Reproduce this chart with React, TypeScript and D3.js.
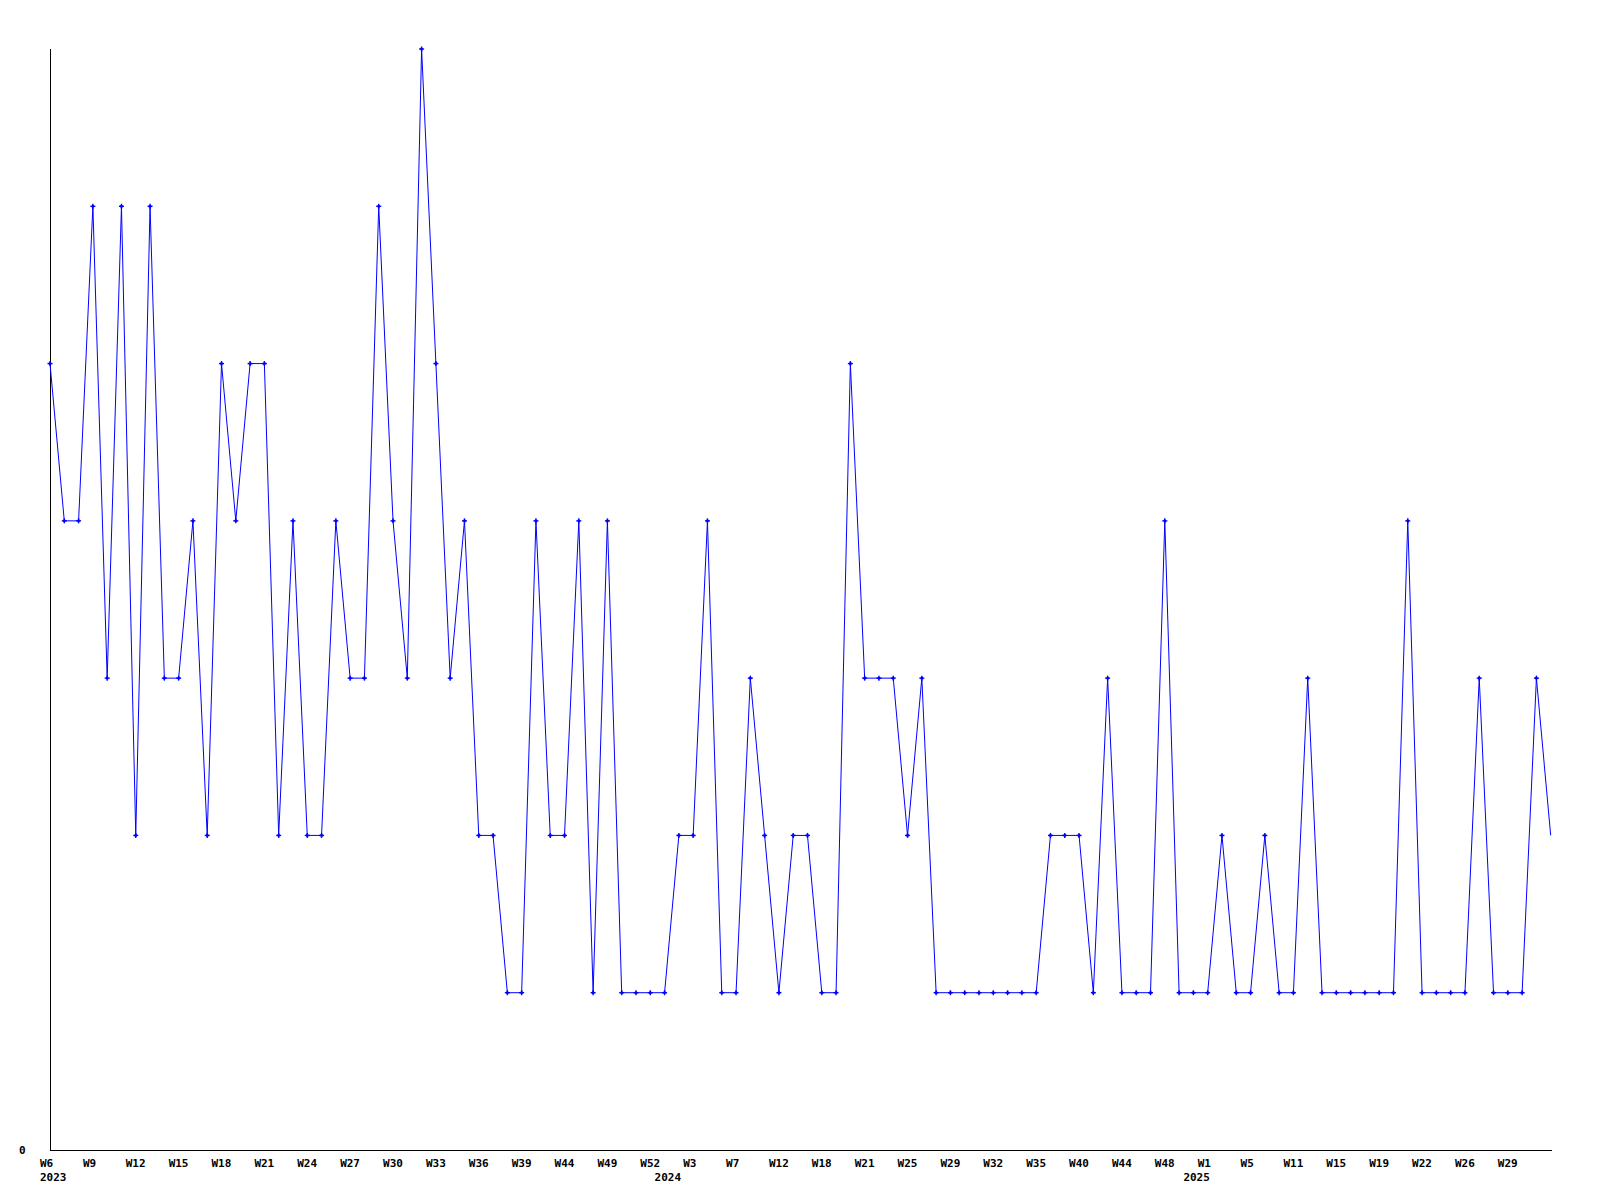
import React from "react";
import * as d3 from "d3";

const weeks: string[] = [
  "W6","W7","W8","W9","W10","W11","W12","W13","W14","W15","W16","W17","W18","W19","W20","W21","W22","W23","W24","W25","W26","W27","W28","W29","W30","W31","W32","W33","W34","W35","W36","W37","W38","W39","W40","W42","W44","W45","W47","W49","W50","W51","W52",
  "W1","W2","W3","W4","W6","W7","W9","W10","W12","W14","W16","W18","W19","W20","W21","W22","W24","W25","W26","W28","W29","W30","W31","W32","W33","W34","W35","W37","W38","W40","W41","W43","W44","W45","W47","W48","W50",
  "W52","W1","W3","W4","W5","W7","W9","W11","W12","W14","W15","W16","W18","W19","W20","W21","W22","W23","W25","W26","W27","W28","W29","W30","W31","W32"
];

const counts: number[] = [
  5,4,4,6,3,6,2,6,3,3,4,2,5,4,5,5,2,4,2,2,4,3,3,6,4,3,7,5,3,4,2,2,1,1,4,2,2,4,1,4,1,1,1,1,2,2,4,1,1,3,2,1,2,2,1,1,5,3,3,3,2,3,1,1,1,1,1,1,1,1,2,2,2,1,3,1,1,1,4,1,1,1,2,1,1,2,1,1,3,1,1,1,1,1,1,4,1,1,1,1,3,1,1,1,3,2
];

const yearLabels: { year: string; index: number }[] = [
  { year: "2023", index: 0 },
  { year: "2024", index: 43 },
  { year: "2025", index: 80 },
];

const yTickLabels: number[] = [0];
const tickEvery = 3;

export default function App() {
  const left = 50;
  const right = 1550.7;
  const top = 49;
  const bottom = 1150;
  const n = counts.length;
  const x = d3.scaleLinear().domain([0, n - 1]).range([left, right]);
  const y = d3.scaleLinear().domain([0, 7]).range([bottom, top]);
  const line = d3
    .line<number>()
    .x((_, i) => x(i))
    .y((d) => y(d));
  const font = "'DejaVu Sans Mono', monospace";
  return (
    <svg
      width={1600}
      height={1200}
      style={{ position: "absolute", left: 0, top: 0, background: "#fff" }}
    >
      <rect x={0} y={0} width={1600} height={1200} fill="#fff" />
      <line x1={left} y1={top} x2={left} y2={bottom} stroke="#000" strokeWidth={1} shapeRendering="crispEdges" />
      <line x1={left} y1={bottom} x2={right + 1} y2={bottom} stroke="#000" strokeWidth={1} shapeRendering="crispEdges" />
      {yTickLabels.map((v) => (
        <text key={v} x={19} y={y(v) + 4} fontFamily={font} fontWeight="bold" fontSize={11} fill="#000">
          {v}
        </text>
      ))}
      {weeks.map((w, i) =>
        i % tickEvery === 0 && i < n - 1 ? (
          <text key={i} x={x(i) - 10} y={1166.5} fontFamily={font} fontWeight="bold" fontSize={11} fill="#000">
            {w}
          </text>
        ) : null
      )}
      {yearLabels.map((yl) => (
        <text key={yl.year} x={x(yl.index) - 10} y={1181} fontFamily={font} fontWeight="bold" fontSize={11} fill="#000">
          {yl.year}
        </text>
      ))}
      <path d={line(counts) || ""} fill="none" stroke="#0000ff" strokeWidth={1} />
      {counts.map((c, i) =>
        i < n - 1 ? (
          <g key={i} stroke="#0000ff" strokeWidth={1.4}>
            <line x1={x(i) - 2.5} y1={y(c)} x2={x(i) + 2.5} y2={y(c)} />
            <line x1={x(i)} y1={y(c) - 2.5} x2={x(i)} y2={y(c) + 2.5} />
            <rect x={x(i) - 1.2} y={y(c) - 1.2} width={2.4} height={2.4} fill="#0000ff" stroke="none" />
          </g>
        ) : null
      )}
    </svg>
  );
}
